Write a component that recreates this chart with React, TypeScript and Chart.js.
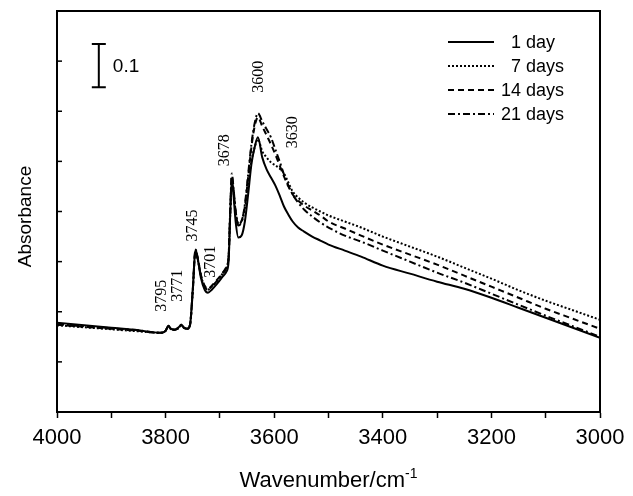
import React, { useEffect, useRef } from "react";
import { Chart, registerables } from "chart.js";

Chart.register(...registerables);

// ---- data ----
const WAVENUMBERS = [
  4000, 3950, 3900, 3850, 3810, 3800, 3795, 3790, 3783, 3775, 3771, 3766, 3760, 3755, 3750,
  3745, 3740, 3735, 3728, 3722, 3715, 3705, 3695, 3688, 3684, 3681, 3678, 3675, 3671, 3666,
  3660, 3654, 3648, 3642, 3636, 3630, 3622, 3614, 3606, 3598, 3590, 3582, 3574, 3566, 3556,
  3545, 3530, 3515, 3500, 3470, 3440, 3400, 3350, 3300, 3250, 3200, 3150, 3100, 3050, 3000,
];

// absorbance (arbitrary offset; one axis unit = one tick interval)
const DAY_1 = [
  1.78, 1.73, 1.68, 1.63, 1.58, 1.62, 1.72, 1.66, 1.64, 1.70, 1.74, 1.68, 1.66, 1.74, 2.44,
  3.24, 3.00, 2.68, 2.44, 2.38, 2.44, 2.56, 2.70, 2.80, 3.00, 3.94, 4.66, 4.34, 3.80, 3.48,
  3.52, 3.80, 4.34, 4.94, 5.28, 5.48, 5.08, 4.84, 4.68, 4.52, 4.32, 4.10, 3.94, 3.80, 3.68,
  3.60, 3.50, 3.42, 3.34, 3.22, 3.10, 2.92, 2.76, 2.60, 2.46, 2.28, 2.08, 1.88, 1.68, 1.48,
];
const DAY_7 = [
  1.73, 1.69, 1.65, 1.61, 1.58, 1.62, 1.70, 1.65, 1.64, 1.68, 1.72, 1.68, 1.66, 1.74, 2.40,
  3.20, 3.00, 2.72, 2.50, 2.44, 2.50, 2.62, 2.76, 2.88, 3.08, 3.94, 4.64, 4.40, 4.00, 3.76,
  3.80, 4.04, 4.54, 5.00, 5.28, 5.44, 5.20, 5.08, 4.98, 4.92, 4.86, 4.76, 4.58, 4.40, 4.28,
  4.18, 4.08, 4.00, 3.92, 3.80, 3.68, 3.50, 3.30, 3.10, 2.88, 2.66, 2.43, 2.22, 2.03, 1.84,
];
const DAY_14 = [
  1.74, 1.70, 1.66, 1.62, 1.58, 1.62, 1.71, 1.66, 1.64, 1.69, 1.73, 1.68, 1.66, 1.74, 2.42,
  3.22, 3.02, 2.74, 2.52, 2.46, 2.52, 2.64, 2.78, 2.90, 3.10, 3.98, 4.70, 4.44, 4.00, 3.74,
  3.82, 4.10, 4.68, 5.28, 5.70, 5.88, 5.70, 5.52, 5.34, 5.14, 4.92, 4.70, 4.50, 4.34, 4.22,
  4.12, 4.02, 3.92, 3.80, 3.66, 3.52, 3.34, 3.14, 2.94, 2.72, 2.50, 2.28, 2.06, 1.86, 1.66,
];
const DAY_21 = [
  1.75, 1.71, 1.67, 1.63, 1.58, 1.62, 1.72, 1.66, 1.64, 1.70, 1.74, 1.68, 1.66, 1.74, 2.42,
  3.24, 3.02, 2.72, 2.50, 2.44, 2.50, 2.62, 2.76, 2.88, 3.10, 4.04, 4.76, 4.48, 4.00, 3.72,
  3.80, 4.14, 4.74, 5.34, 5.76, 5.96, 5.80, 5.64, 5.48, 5.24, 5.00, 4.74, 4.52, 4.34, 4.18,
  4.04, 3.90, 3.78, 3.68, 3.52, 3.40, 3.22, 3.00, 2.78, 2.58, 2.36, 2.14, 1.92, 1.71, 1.50,
];

const SERIES_LABELS = ["1 day", "7 days", "14 days", "21 days"];
const X_TICK_LABELS = ["4000", "3800", "3600", "3400", "3200", "3000"];
const X_TITLE = "Wavenumber/cm";
const X_TITLE_SUP = "-1";
const Y_TITLE = "Absorbance";

// peak annotations (text + anchor in data coordinates)
const PEAK_LABELS = ["3600", "3630", "3678", "3745", "3701", "3771", "3795"];
const PEAK_AT_X = [3631, 3568, 3692, 3752, 3718, 3780, 3808];
const PEAK_AT_Y = [6.69, 5.58, 5.22, 3.72, 3.0, 2.52, 2.32];

// scale bar (0.1 absorbance)
const SCALE_BAR_LABEL = "0.1";
const SCALE_BAR_X = 3923;
const SCALE_BAR_TOP = 7.34;
const SCALE_BAR_BOTTOM = 6.48;

const SANS = "'Liberation Sans', Arial, Helvetica, sans-serif";
const SERIF = "'Liberation Serif', 'Times New Roman', serif";

const DASHES: number[][] = [[], [2, 2], [6, 4], [7, 3, 2, 3]];

const decorPlugin = {
  id: "decor",
  afterDraw(chart: any) {
    const ctx = chart.ctx as CanvasRenderingContext2D;
    const a = chart.chartArea;
    const xs = chart.scales.x;
    const ys = chart.scales.y;
    ctx.save();
    ctx.strokeStyle = "#000";
    ctx.fillStyle = "#000";

    // frame top + right
    ctx.lineWidth = 2;
    ctx.beginPath();
    ctx.moveTo(a.left - 1, a.top);
    ctx.lineTo(a.right, a.top);
    ctx.lineTo(a.right, a.bottom + 1);
    ctx.stroke();

    // inward y ticks
    ctx.lineWidth = 1.5;
    for (const t of ys.ticks) {
      const py = ys.getPixelForValue(t.value);
      if (py <= a.top + 1 || py >= a.bottom - 1) continue;
      ctx.beginPath();
      ctx.moveTo(a.left, py);
      ctx.lineTo(a.left + 5, py);
      ctx.stroke();
    }

    // scale bar
    const bx = xs.getPixelForValue(SCALE_BAR_X);
    const bt = ys.getPixelForValue(SCALE_BAR_TOP);
    const bb = ys.getPixelForValue(SCALE_BAR_BOTTOM);
    ctx.lineWidth = 2;
    ctx.beginPath();
    ctx.moveTo(bx, bt);
    ctx.lineTo(bx, bb);
    ctx.moveTo(bx - 7, bt);
    ctx.lineTo(bx + 7, bt);
    ctx.moveTo(bx - 7, bb);
    ctx.lineTo(bx + 7, bb);
    ctx.stroke();
    ctx.font = `19px ${SANS}`;
    ctx.textAlign = "left";
    ctx.textBaseline = "middle";
    ctx.fillText(SCALE_BAR_LABEL, bx + 14, (bt + bb) / 2 + 1);

    // peak labels (rotated, serif)
    ctx.font = `16px ${SERIF}`;
    ctx.textAlign = "center";
    ctx.textBaseline = "middle";
    PEAK_LABELS.forEach((lab, i) => {
      const px = xs.getPixelForValue(PEAK_AT_X[i]);
      const py = ys.getPixelForValue(PEAK_AT_Y[i]);
      ctx.save();
      ctx.translate(px, py);
      ctx.rotate(-Math.PI / 2);
      ctx.fillText(lab, 0, 1);
      ctx.restore();
    });

    // legend
    ctx.font = `18px ${SANS}`;
    SERIES_LABELS.forEach((lab, i) => {
      const y = a.top + 31 + i * 24;
      ctx.save();
      ctx.lineWidth = 2;
      ctx.setLineDash(DASHES[i]);
      ctx.beginPath();
      ctx.moveTo(a.right - 152, y);
      ctx.lineTo(a.right - 106, y);
      ctx.stroke();
      ctx.restore();
      const sp = lab.indexOf(" ");
      const num = lab.slice(0, sp);
      const rest = lab.slice(sp);
      const col = a.right - 79;
      ctx.textBaseline = "middle";
      ctx.textAlign = "right";
      ctx.fillText(num, col, y + 1);
      ctx.textAlign = "left";
      ctx.fillText(rest, col, y + 1);
    });

    // x title
    ctx.font = `22px ${SANS}`;
    ctx.textBaseline = "alphabetic";
    ctx.textAlign = "left";
    const w1 = ctx.measureText(X_TITLE).width;
    ctx.font = `14px ${SANS}`;
    const w2 = ctx.measureText(X_TITLE_SUP).width;
    const cx = (a.left + a.right) / 2;
    const sx = cx - (w1 + w2) / 2;
    ctx.font = `22px ${SANS}`;
    ctx.fillText(X_TITLE, sx, 487);
    ctx.font = `14px ${SANS}`;
    ctx.fillText(X_TITLE_SUP, sx + w1, 478);

    // y title
    ctx.font = `19px ${SANS}`;
    ctx.textAlign = "center";
    ctx.textBaseline = "middle";
    ctx.save();
    ctx.translate(26, (a.top + a.bottom) / 2 + 5);
    ctx.rotate(-Math.PI / 2);
    ctx.fillText(Y_TITLE, 0, 0);
    ctx.restore();

    ctx.restore();
  },
};

export default function App() {
  const ref = useRef<HTMLCanvasElement | null>(null);

  useEffect(() => {
    if (!ref.current) return;
    const series = [DAY_1, DAY_7, DAY_14, DAY_21];
    const chart = new Chart(ref.current, {
      type: "line",
      data: {
        datasets: series.map((vals, i) => ({
          label: SERIES_LABELS[i],
          data: WAVENUMBERS.map((w, j) => ({ x: w, y: vals[j] })),
          borderColor: "#000",
          borderWidth: 2,
          borderDash: DASHES[i],
          pointRadius: 0,
          fill: false,
          cubicInterpolationMode: "monotone" as const,
        })),
      },
      options: {
        responsive: false,
        animation: false,
        events: [],
        layout: { padding: { top: 11, right: 33, left: 0, bottom: 0 } },
        plugins: {
          legend: { display: false },
          tooltip: { enabled: false },
          title: { display: false },
        },
        scales: {
          x: {
            type: "linear",
            min: 3000,
            max: 4000,
            reverse: true,
            afterFit: (s: any) => {
              s.height = 84;
            },
            border: { display: true, color: "#000", width: 2 },
            grid: {
              display: true,
              drawOnChartArea: false,
              drawTicks: true,
              tickLength: 6,
              tickColor: "#000",
              tickWidth: 1.5,
            },
            ticks: {
              stepSize: 100,
              autoSkip: false,
              maxRotation: 0,
              minRotation: 0,
              padding: 7,
              color: "#000",
              font: { family: SANS, size: 22 },
              callback: (v: any) => (X_TICK_LABELS.includes(String(v)) ? String(v) : ""),
            },
          },
          y: {
            type: "linear",
            min: 0,
            max: 8,
            afterFit: (s: any) => {
              s.width = 57;
            },
            border: { display: true, color: "#000", width: 2 },
            grid: { display: false },
            ticks: { display: false, stepSize: 1 },
          },
        },
      },
      plugins: [decorPlugin],
    });
    return () => chart.destroy();
  }, []);

  return (
    <div style={{ position: "absolute", left: 0, top: 0, width: 633, height: 496, background: "#fff" }}>
      <canvas ref={ref} width={633} height={496} style={{ display: "block" }} />
    </div>
  );
}
